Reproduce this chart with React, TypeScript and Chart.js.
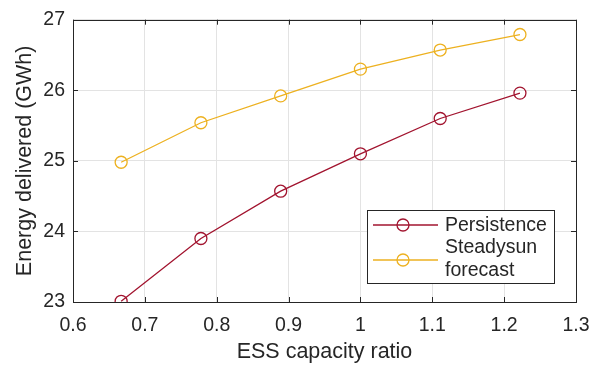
import React, { useEffect, useRef } from "react";
import { Chart, registerables } from "chart.js";

Chart.register(...registerables);

// ---- data ----
const capacityRatio = [0.667, 0.778, 0.889, 1.0, 1.111, 1.222];
const persistence = [23.01, 23.9, 24.57, 25.1, 25.6, 25.96];
const steadysun = [24.98, 25.54, 25.92, 26.3, 26.57, 26.79];
const seriesLabels: string[][] = [["Persistence"], ["Steadysun", "forecast"]];
const xLimits = [0.6, 1.3];
const yLimits = [23, 27];
const xTitle = "ESS capacity ratio";
const yTitle = "Energy delivered (GWh)";

const RED = "#A2142F";
const YELLOW = "#EDB120";
const AXIS = "#262626";
const FONT = "'Liberation Sans', Arial, Helvetica, sans-serif";

const boxTicksPlugin = {
  id: "boxTicks",
  afterDatasetsDraw(chart: any) {
    const { ctx, chartArea } = chart;
    const { left, right, top, bottom } = chartArea;
    const xs = chart.scales.x;
    const ys = chart.scales.y;
    const len = 5;
    ctx.save();
    ctx.strokeStyle = AXIS;
    ctx.lineWidth = 1;
    ctx.beginPath();
    xs.ticks.forEach((t: any) => {
      const px = Math.round(xs.getPixelForValue(t.value)) + 0.5;
      ctx.moveTo(px, bottom);
      ctx.lineTo(px, bottom - len);
      ctx.moveTo(px, top);
      ctx.lineTo(px, top + len);
    });
    ys.ticks.forEach((t: any) => {
      const py = Math.round(ys.getPixelForValue(t.value)) + 0.5;
      ctx.moveTo(left, py);
      ctx.lineTo(left + len, py);
      ctx.moveTo(right, py);
      ctx.lineTo(right - len, py);
    });
    ctx.stroke();
    ctx.strokeRect(Math.round(left) + 0.5, Math.round(top) + 0.5, Math.round(right - left), Math.round(bottom - top));
    ctx.restore();
  },
};

const legendPlugin = {
  id: "boxLegend",
  afterDraw(chart: any) {
    const { ctx, chartArea } = chart;
    const bx = chartArea.right - 209;
    const by = chartArea.bottom - 92;
    const bw = 187;
    const bh = 73;
    ctx.save();
    ctx.fillStyle = "#ffffff";
    ctx.fillRect(bx, by, bw, bh);
    ctx.strokeStyle = AXIS;
    ctx.lineWidth = 1;
    ctx.strokeRect(Math.round(bx) + 0.5, Math.round(by) + 0.5, bw, bh);
    const rows = [
      { color: RED, lineY: by + 15, lines: seriesLabels[0], baseY: by + 21 },
      { color: YELLOW, lineY: by + 50, lines: seriesLabels[1], baseY: by + 43 },
    ];
    ctx.font = `19.5px ${FONT}`;
    ctx.textBaseline = "alphabetic";
    ctx.textAlign = "left";
    rows.forEach((r) => {
      ctx.strokeStyle = r.color;
      ctx.lineWidth = 1.3;
      ctx.beginPath();
      ctx.moveTo(bx + 6, r.lineY);
      ctx.lineTo(bx + 71, r.lineY);
      ctx.stroke();
      ctx.beginPath();
      ctx.arc(bx + 36, r.lineY, 6, 0, Math.PI * 2);
      ctx.stroke();
      ctx.fillStyle = AXIS;
      r.lines.forEach((s, i) => {
        ctx.fillText(s, bx + 78, r.baseY + i * 23);
      });
    });
    ctx.restore();
  },
};

export default function App() {
  const ref = useRef<HTMLCanvasElement | null>(null);
  useEffect(() => {
    document.body.style.margin = "0";
    if (!ref.current) return;
    const mk = (ys: number[]) => capacityRatio.map((x, i) => ({ x, y: ys[i] }));
    const chart = new Chart(ref.current, {
      type: "line",
      data: {
        datasets: [
          {
            label: "Persistence",
            data: mk(persistence),
            borderColor: RED,
            backgroundColor: "rgba(0,0,0,0)",
            borderWidth: 1.3,
            pointRadius: 6,
            pointBorderWidth: 1.3,
            pointBorderColor: RED,
            pointBackgroundColor: "rgba(0,0,0,0)",
            tension: 0,
          },
          {
            label: "Steadysun forecast",
            data: mk(steadysun),
            borderColor: YELLOW,
            backgroundColor: "rgba(0,0,0,0)",
            borderWidth: 1.3,
            pointRadius: 6,
            pointBorderWidth: 1.3,
            pointBorderColor: YELLOW,
            pointBackgroundColor: "rgba(0,0,0,0)",
            tension: 0,
          },
        ],
      },
      options: {
        responsive: false,
        animation: false,
        layout: { padding: { left: 0, top: 16, right: 26, bottom: 0 } },
        plugins: { legend: { display: false }, tooltip: { enabled: false } },
        scales: {
          x: {
            type: "linear",
            min: xLimits[0],
            max: xLimits[1],
            afterFit: (s: any) => {
              s.height = 63;
            },
            ticks: {
              stepSize: 0.1,
              color: AXIS,
              font: { family: FONT, size: 19.5 },
              padding: 12,
              maxRotation: 0,
              callback: (v: any) => String(Number(Number(v).toFixed(1))),
            },
            grid: { color: "#e3e3e3", drawTicks: false, lineWidth: 1 },
            border: { display: false },
            title: {
              display: true,
              text: xTitle,
              color: AXIS,
              font: { family: FONT, size: 21.5 },
              padding: { top: 0, bottom: 0 },
            },
          },
          y: {
            type: "linear",
            min: yLimits[0],
            max: yLimits[1],
            afterFit: (s: any) => {
              s.width = 73;
            },
            ticks: {
              stepSize: 1,
              color: AXIS,
              font: { family: FONT, size: 19.5 },
              padding: 8,
            },
            grid: { color: "#e3e3e3", drawTicks: false, lineWidth: 1 },
            border: { display: false },
            title: {
              display: true,
              text: yTitle,
              color: AXIS,
              font: { family: FONT, size: 21.5 },
              padding: { top: 12, bottom: 12 },
            },
          },
        },
      },
      plugins: [boxTicksPlugin, legendPlugin],
    } as any);
    return () => chart.destroy();
  }, []);
  return (
    <div style={{ width: 602, height: 365 }}>
      <canvas ref={ref} width={602} height={365} style={{ display: "block" }} />
    </div>
  );
}
